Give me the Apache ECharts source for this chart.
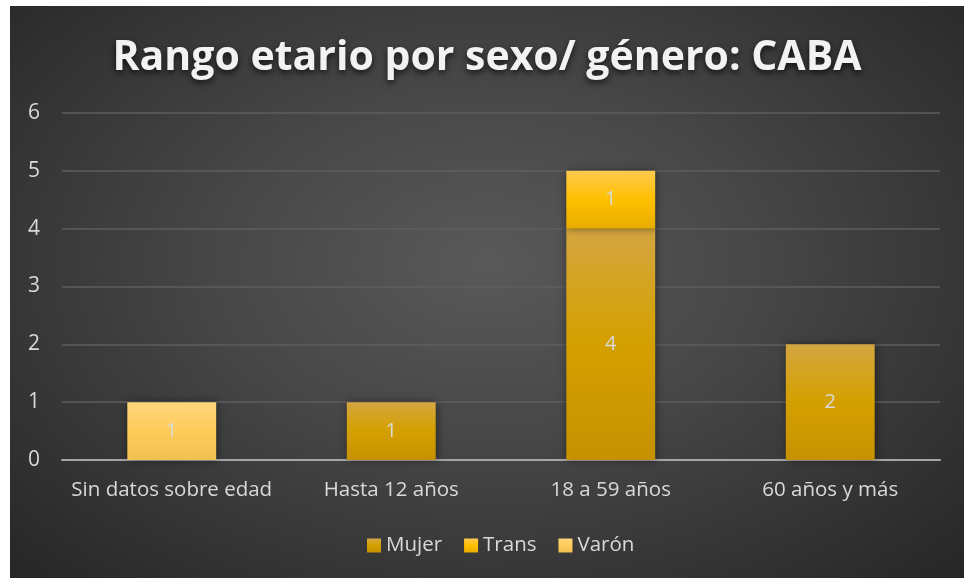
<!DOCTYPE html>
<html>
<head>
<meta charset="utf-8">
<script src="https://cdn.jsdelivr.net/npm/echarts@6/dist/echarts.min.js"></script>
<style>
  html, body { margin: 0; padding: 0; background: #fff; }
  #echarts {
    position: absolute; left: 10px; top: 6px; width: 954px; height: 572px;
    background: radial-gradient(ellipse at 50% 45%, #595959 0%, #474747 40%, #262626 100%);
  }
</style>
</head>
<body>
<div id="echarts"></div>
<script>
// chart data
const categories = ['Sin datos sobre edad', 'Hasta 12 años', '18 a 59 años', '60 años y más'];
const mujer = [null, 1, 4, 2];
const trans = [null, null, 1, null];
const varon = [1, null, null, null];
const yTicks = [0, 1, 2, 3, 4, 5, 6];

const chartInstance = echarts.init(document.getElementById('echarts'));

function grad(top, mid, bottom) {
    return new echarts.graphic.LinearGradient(0, 0, 0, 1, [
        { offset: 0, color: top },
        { offset: 0.5, color: mid },
        { offset: 1, color: bottom }
    ]);
}

const barStyle = (color) => ({
    color: color,
    shadowColor: 'rgba(0,0,0,0.45)',
    shadowBlur: 8,
    shadowOffsetX: 1
});

const label = {
    show: true,
    position: 'inside',
    color: '#d9d9d9',
    fontSize: 20,
    fontFamily: 'Open Sans'
};

const option = {
    title: {
        text: 'Rango etario por sexo/ género: CABA',
        left: 'center',
        top: 27,
        textStyle: {
            fontSize: 41,
            fontWeight: 'bold',
            fontFamily: 'Open Sans',
            color: '#f2f2f2',
            textShadowColor: 'rgba(0,0,0,0.7)',
            textShadowBlur: 6,
            textShadowOffsetY: 3
        }
    },
    legend: {
        data: ['Mujer', 'Trans', 'Varón'],
        bottom: 17,
        left: 352,
        itemWidth: 14,
        itemHeight: 14,
        itemGap: 22,
        icon: 'rect',
        textStyle: {
            color: '#d9d9d9',
            fontSize: 20.5,
            fontFamily: 'Open Sans'
        }
    },
    grid: {
        left: 52,
        right: 24,
        top: 107,
        bottom: 118
    },
    xAxis: {
        type: 'category',
        data: categories,
        axisTick: { show: false },
        axisLine: { lineStyle: { color: '#a6a6a6', width: 2 } },
        axisLabel: {
            color: '#d9d9d9',
            fontSize: 20.5,
            fontFamily: 'Open Sans',
            interval: 0,
            margin: 20
        }
    },
    yAxis: {
        type: 'value',
        min: yTicks[0],
        max: yTicks[yTicks.length - 1],
        interval: 1,
        axisLabel: {
            color: '#d9d9d9',
            fontSize: 21,
            fontFamily: 'Open Sans',
            margin: 22
        },
        splitLine: { lineStyle: { color: '#5e5e5e', width: 1.5 } }
    },
    series: [
        {
            name: 'Mujer',
            type: 'bar',
            stack: 'total',
            barWidth: '40.5%',
            data: mujer,
            label: label,
            itemStyle: barStyle(grad('#d4a640', '#d4a000', '#c69100'))
        },
        {
            name: 'Trans',
            type: 'bar',
            stack: 'total',
            data: trans,
            label: label,
            itemStyle: barStyle(grad('#ffc94d', '#ffc000', '#e8ac00'))
        },
        {
            name: 'Varón',
            type: 'bar',
            stack: 'total',
            data: varon,
            label: label,
            itemStyle: barStyle(grad('#ffd57c', '#ffcc5a', '#f0c050'))
        }
    ]
};

chartInstance.setOption(option);
</script>
</body>
</html>
